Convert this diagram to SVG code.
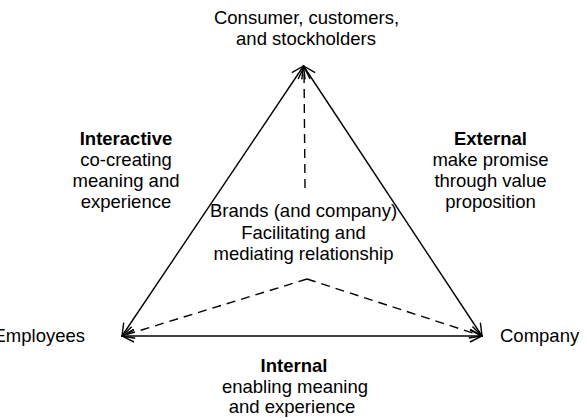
<svg xmlns="http://www.w3.org/2000/svg" width="586" height="418" viewBox="0 0 586 418">
  <style>
    text { font-family: "Liberation Sans", Arial, sans-serif; font-size: 18.5px; fill: #000; }
    .b { font-weight: bold; }
    .c { text-anchor: middle; }
    .edge { stroke: #000; stroke-width: 1.4; fill: none; }
    .dash { stroke-dasharray: 9 6; }
  </style>
  <defs>
    <marker id="arrow" viewBox="0 0 14 14" refX="13" refY="7" markerWidth="14" markerHeight="14" markerUnits="userSpaceOnUse" orient="auto-start-reverse">
      <path d="M1,1 L13,7 L1,13" fill="none" stroke="#000" stroke-width="1.4"/>
    </marker>
  </defs>

  <rect width="586" height="418" fill="#fff"/>

  <!-- connectors -->
  <g id="connectors">
    <line class="edge" x1="303.5" y1="66" x2="122" y2="336" marker-start="url(#arrow)" marker-end="url(#arrow)"/>
    <line class="edge" x1="303.5" y1="66" x2="482" y2="336" marker-start="url(#arrow)" marker-end="url(#arrow)"/>
    <line class="edge" x1="122" y1="336" x2="482" y2="336" marker-start="url(#arrow)" marker-end="url(#arrow)"/>
    <line class="edge dash" x1="305" y1="188" x2="304" y2="67" marker-end="url(#arrow)"/>
    <line class="edge dash" x1="307" y1="279" x2="122" y2="336" marker-end="url(#arrow)"/>
    <line class="edge dash" x1="307" y1="279" x2="482" y2="336" marker-end="url(#arrow)"/>
  </g>

  <!-- nodes -->
  <g id="consumers">
    <text class="c" x="306.5" y="23.5">Consumer, customers,</text>
    <text class="c" x="306" y="44.5">and stockholders</text>
  </g>
  <g id="employees">
    <text x="85" y="342" text-anchor="end">Employees</text>
  </g>
  <g id="company">
    <text x="500" y="342">Company</text>
  </g>
  <g id="brands">
    <text class="c" x="303.5" y="217">Brands (and company)</text>
    <text class="c" x="303.5" y="239">Facilitating and</text>
    <text class="c" x="303.5" y="260">mediating relationship</text>
  </g>

  <!-- edge labels -->
  <g id="interactive">
    <text class="c b" x="126" y="144.5">Interactive</text>
    <text class="c" x="126" y="166">co-creating</text>
    <text class="c" x="126" y="187">meaning and</text>
    <text class="c" x="126" y="208">experience</text>
  </g>
  <g id="external">
    <text class="c b" x="490.5" y="144.5">External</text>
    <text class="c" x="490.5" y="166">make promise</text>
    <text class="c" x="490.5" y="187">through value</text>
    <text class="c" x="490.5" y="208">proposition</text>
  </g>
  <g id="internal">
    <text class="c b" x="294" y="371.5">Internal</text>
    <text class="c" x="295" y="392.5">enabling meaning</text>
    <text class="c" x="292" y="413">and experience</text>
  </g>
</svg>
